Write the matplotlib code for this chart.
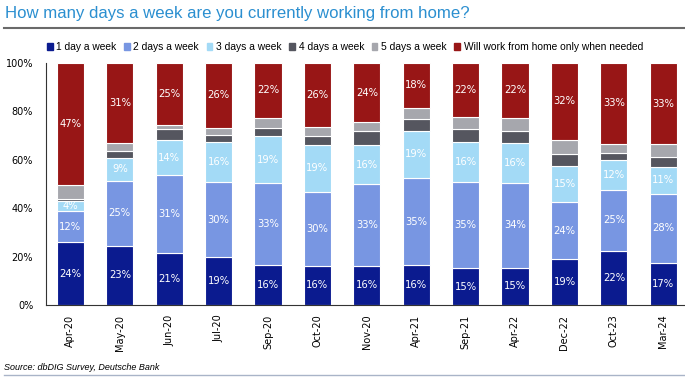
import matplotlib
matplotlib.use("Agg")
import matplotlib.pyplot as plt
from matplotlib.lines import Line2D
import numpy as np

plt.rcParams.update({"font.family": ["Liberation Sans", "DejaVu Sans"]})

# ---- data (survey shares, % of respondents) ----
months = ["Apr-20", "May-20", "Jun-20", "Jul-20", "Sep-20", "Oct-20", "Nov-20",
          "Apr-21", "Sep-21", "Apr-22", "Dec-22", "Oct-23", "Mar-24"]
one_day   = [24, 23, 21, 19, 16, 16, 16, 16, 15, 15, 19, 22, 17]
two_days  = [12, 25, 31, 30, 33, 30, 33, 35, 35, 34, 24, 25, 28]
three_days = [4, 9, 14, 16, 19, 19, 16, 19, 16, 16, 15, 12, 11]
four_days = [0.5, 2.6, 4.6, 3.1, 3.5, 3.6, 5.6, 4.7, 5.4, 5.0, 4.9, 3.0, 4.0]
five_days = [5.4, 3.0, 1.4, 2.7, 4.0, 3.5, 3.6, 4.5, 4.8, 5.4, 6.0, 3.6, 5.0]
when_needed = [47, 31, 25, 26, 22, 26, 24, 18, 22, 22, 32, 33, 33]

series = ["1 day a week", "2 days a week", "3 days a week", "4 days a week",
          "5 days a week", "Will work from home only when needed"]
colors = ["#0b1b8f", "#7896e2", "#a3daf6", "#55565f", "#a6a7ad", "#981616"]
labelled = [True, True, True, False, False, True]

raw = np.array([one_day, two_days, three_days, four_days, five_days, when_needed], dtype=float)
share = raw / raw.sum(axis=0) * 100

fig = plt.figure(figsize=(6.85, 3.77), dpi=100)
ax = fig.add_axes([0.0667, 0.191, 0.9333, 0.642])

x = np.arange(len(months))
bottom = np.zeros(len(months))
for i, name in enumerate(series):
    ax.bar(x, share[i], 0.55, bottom=bottom, color=colors[i],
           edgecolor="white", linewidth=0.8, label=name)
    if labelled[i]:
        for xi, b, h, v in zip(x, bottom, share[i], raw[i]):
            ax.text(xi, b + h / 2, f"{v:.0f}%", ha="center", va="center",
                    color="white", fontsize=7.2, family="DejaVu Sans")
    bottom += share[i]

ax.set_xlim(-0.5, 12.44)
ax.set_ylim(0, 100)
ax.set_yticks(range(0, 101, 20))
ax.set_yticklabels([f"{t}%" for t in range(0, 101, 20)], fontsize=7,
                   family="DejaVu Sans")
ax.set_xticks(x)
ax.set_xticklabels(months, rotation=90, fontsize=7, family="DejaVu Sans")
ax.tick_params(length=0)
ax.tick_params(axis="y", pad=9)
ax.tick_params(axis="x", pad=7)
for sp in ["top", "right"]:
    ax.spines[sp].set_visible(False)
for sp in ["left", "bottom"]:
    ax.spines[sp].set_color("#333333")
    ax.spines[sp].set_linewidth(0.8)

# title and rule
fig.text(0.007, 0.965, "How many days a week are you currently working from home?",
         fontsize=12.1, color="#2b8fd0", ha="left", va="center")
fig.add_artist(Line2D([0.006, 1.0], [0.925, 0.925], color="#6a6a6a", linewidth=1.5))

handles = [plt.Rectangle((0, 0), 1, 1, color=c) for c in colors]
fig.legend(handles, series, loc="center left", bbox_to_anchor=(0.055, 0.875),
           ncol=6, frameon=False, fontsize=7.4, handlelength=0.55, handleheight=0.55,
           handletextpad=0.35, columnspacing=0.75)

fig.text(0.006, 0.024, "Source: dbDIG Survey, Deutsche Bank", fontsize=6.5,
         style="italic", ha="left", va="center")
fig.add_artist(Line2D([0.006, 1.0], [0.006, 0.006], color="#a9b4c8", linewidth=1.0))

fig.savefig("out.png", dpi=100, facecolor="white")
